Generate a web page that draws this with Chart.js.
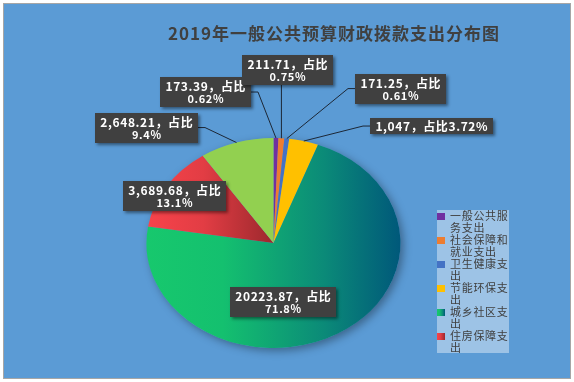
<!DOCTYPE html>
<html>
<head>
<meta charset="utf-8">
<script src="https://cdn.jsdelivr.net/npm/chart.js@4/dist/chart.umd.min.js"></script>
<style>
  html, body { margin: 0; padding: 0; background: #fff; }
  canvas { display: block; }
</style>
</head>
<body>
<canvas id="pie" width="574" height="382"></canvas>
<script>
'use strict';

// data
const categories = ['一般公共服务支出', '社会保障和就业支出', '卫生健康支出', '节能环保支出', '城乡社区支出', '住房保障支出', '农林水支出'];
const amounts = [173.39, 211.71, 171.25, 1047, 20223.87, 3689.68, 2648.21];
const amountText = ['173.39', '211.71', '171.25', '1,047', '20223.87', '3,689.68', '2,648.21'];
const chartTitle = '2019年一般公共预算财政拨款支出分布图';

// look
const solid = ['#7030a0', '#ed7d31', '#4472c4', '#ffc000', '#13c46c', '#f0424a', '#92d050'];
const legendCount = 6;            // legend in the picture is cut after six items
const stretchX = 127 / 105;       // excel pie is drawn as an ellipse
const labelShift = [[-70, -46], [6, -68], [114, -50], [128, -15], [-54, -32], [8, 10], [-90, -15]];
const oneLine = [false, false, false, true, false, false, false];
const leader = [true, true, true, true, false, false, true];

const total = amounts.reduce((a, b) => a + b, 0);
function share(v) {
  let s = (v / total * 100).toFixed(2);
  s = s.replace(/0+$/, '').replace(/\.$/, '');
  return s + '%';
}

const FONT = "'Noto Sans CJK SC', 'Noto Sans', sans-serif";
Chart.defaults.font.family = FONT;

function sliceFill(ctx, i, x0, x1) {
  if (i === 4) {
    const g = ctx.createLinearGradient(x0, 0, x1, 0);
    g.addColorStop(0, '#17c86d');
    g.addColorStop(0.3, '#14c06f');
    g.addColorStop(0.7, '#0b8a78');
    g.addColorStop(1, '#00587a');
    return g;
  }
  if (i === 5) {
    const g = ctx.createLinearGradient(x0, 0, x1, 0);
    g.addColorStop(0, '#f8434b');
    g.addColorStop(0.45, '#e23d44');
    g.addColorStop(1, '#9c282d');
    return g;
  }
  return solid[i];
}

function arcColor(c) {
  const chart = c.chart;
  const a = chart.chartArea;
  if (!a) return solid[c.dataIndex];
  const cx = (a.left + a.right) / 2;
  const r = Math.min(a.right - a.left, a.bottom - a.top) / 2;
  if (c.dataIndex === 5) return sliceFill(chart.ctx, 5, cx - r, cx);
  return sliceFill(chart.ctx, c.dataIndex, cx - r, cx + r);
}

const backdrop = {
  id: 'backdrop',
  beforeDraw(chart) {
    const ctx = chart.ctx;
    ctx.save();
    ctx.fillStyle = '#ffffff';
    ctx.fillRect(0, 0, chart.width, chart.height);
    ctx.fillStyle = '#5b9bd5';
    ctx.fillRect(4, 4, chart.width - 8, chart.height - 8);
    ctx.strokeStyle = '#a6a6a6';
    ctx.lineWidth = 1;
    ctx.strokeRect(3.5, 3.5, chart.width - 7, chart.height - 7);
    // title
    ctx.fillStyle = '#404040';
    ctx.font = 'bold 17px ' + FONT;
    ctx.textAlign = 'center';
    ctx.textBaseline = 'middle';
    ctx.letterSpacing = '1px';
    ctx.fillText(chartTitle, 334, 34);
    ctx.restore();
  }
};

const ellipse = {
  id: 'ellipse',
  beforeDatasetsDraw(chart) {
    const ctx = chart.ctx;
    const arc = chart.getDatasetMeta(0).data[0];
    ctx.save();
    ctx.translate(arc.x, 0);
    ctx.scale(stretchX, 1);
    ctx.translate(-arc.x, 0);
    // soft shadow under the pie
    ctx.save();
    ctx.shadowColor = 'rgba(0,0,0,0.35)';
    ctx.shadowBlur = 8;
    ctx.shadowOffsetX = 3;
    ctx.shadowOffsetY = 3;
    ctx.fillStyle = '#5b9bd5';
    ctx.beginPath();
    ctx.arc(arc.x, arc.y, arc.outerRadius, 0, Math.PI * 2);
    ctx.fill();
    ctx.restore();
  },
  afterDatasetsDraw(chart) {
    chart.ctx.restore();
  }
};

function edgePoint(arc) {
  const mid = (arc.startAngle + arc.endAngle) / 2;
  return {
    x: arc.x + Math.cos(mid) * arc.outerRadius * stretchX,
    y: arc.y + Math.sin(mid) * arc.outerRadius
  };
}

const dataLabels = {
  id: 'dataLabels',
  afterDatasetsDraw(chart) {
    const ctx = chart.ctx;
    const arcs = chart.getDatasetMeta(0).data;
    ctx.save();
    ctx.letterSpacing = '0.6px';
    arcs.forEach((arc, i) => {
      const p = edgePoint(arc);
      const bx = p.x + labelShift[i][0];
      const by = p.y + labelShift[i][1];
      let lines;
      if (oneLine[i]) lines = [amountText[i] + '，占比' + share(amounts[i])];
      else lines = [amountText[i] + '，占比', share(amounts[i])];

      ctx.font = 'bold 12px ' + FONT;
      let w = ctx.measureText(lines[0]).width;
      if (lines[1]) {
        ctx.font = 'bold 11px ' + FONT;
        w = Math.max(w, ctx.measureText(lines[1]).width);
      }
      const bw = Math.round(w + 10);
      const bh = lines.length === 2 ? 30 : 16;
      const left = Math.round(bx - bw / 2);
      const top = Math.round(by - bh / 2);

      // leader line
      if (leader[i]) {
        ctx.strokeStyle = '#1c2736';
        ctx.lineWidth = 1;
        ctx.beginPath();
        if (p.x > left + bw) {
          ctx.moveTo(left + bw, by);
          ctx.lineTo(left + bw + 7, by);
        } else if (p.x < left) {
          ctx.moveTo(left, by);
          ctx.lineTo(left - 7, by);
        } else {
          ctx.moveTo(p.x, top + bh);
        }
        ctx.lineTo(p.x, p.y);
        ctx.stroke();
      }

      // box with shadow
      ctx.save();
      ctx.shadowColor = 'rgba(0,0,0,0.45)';
      ctx.shadowBlur = 3;
      ctx.shadowOffsetX = 2;
      ctx.shadowOffsetY = 2;
      ctx.fillStyle = '#404040';
      ctx.fillRect(left, top, bw, bh);
      ctx.restore();

      ctx.fillStyle = '#ffffff';
      ctx.textAlign = 'center';
      ctx.textBaseline = 'middle';
      ctx.font = 'bold 12px ' + FONT;
      const tx = left + bw / 2 + 0.3;
      if (lines.length === 2) {
        ctx.fillText(lines[0], tx, top + 9);
        ctx.font = 'bold 11px ' + FONT;
        ctx.fillText(lines[1], tx, top + 22);
      } else {
        ctx.fillText(lines[0], tx, top + bh / 2 + 0.5);
      }
    });
    ctx.restore();
  }
};

const sideLegend = {
  id: 'sideLegend',
  afterDraw(chart) {
    const ctx = chart.ctx;
    const x = 437, y = 210, w = 72, h = 143;
    ctx.save();
    ctx.fillStyle = '#9dc3e6';
    ctx.fillRect(x, y, w, h);
    ctx.font = '11px ' + FONT;
    ctx.textBaseline = 'middle';
    ctx.textAlign = 'left';
    let row = 0;
    for (let i = 0; i < legendCount; i++) {
      const ly = y + 6 + row * 12;
      ctx.fillStyle = sliceFill(ctx, i, x, x + 8);
      ctx.fillRect(x, ly - 3, 8, 7);
      const chars = Array.from(categories[i]);
      const perLine = 5;
      for (let k = 0; k < chars.length; k += perLine) {
        const part = chars.slice(k, k + perLine);
        const ty = y + 6 + row * 12;
        ctx.fillStyle = '#404040';
        part.forEach((ch, j) => ctx.fillText(ch, x + 13 + j * 11.7, ty));
        row++;
      }
    }
    ctx.restore();
  }
};

new Chart(document.getElementById('pie'), {
  type: 'pie',
  data: {
    labels: categories,
    datasets: [{
      data: amounts,
      backgroundColor: arcColor,
      borderWidth: 0
    }]
  },
  options: {
    responsive: false,
    animation: false,
    devicePixelRatio: 1,
    layout: { padding: { left: 150, right: 177, top: 138, bottom: 34 } },
    plugins: {
      legend: { display: false },
      title: { display: false },
      tooltip: { enabled: false }
    }
  },
  plugins: [backdrop, ellipse, dataLabels, sideLegend]
});
</script>
</body>
</html>
